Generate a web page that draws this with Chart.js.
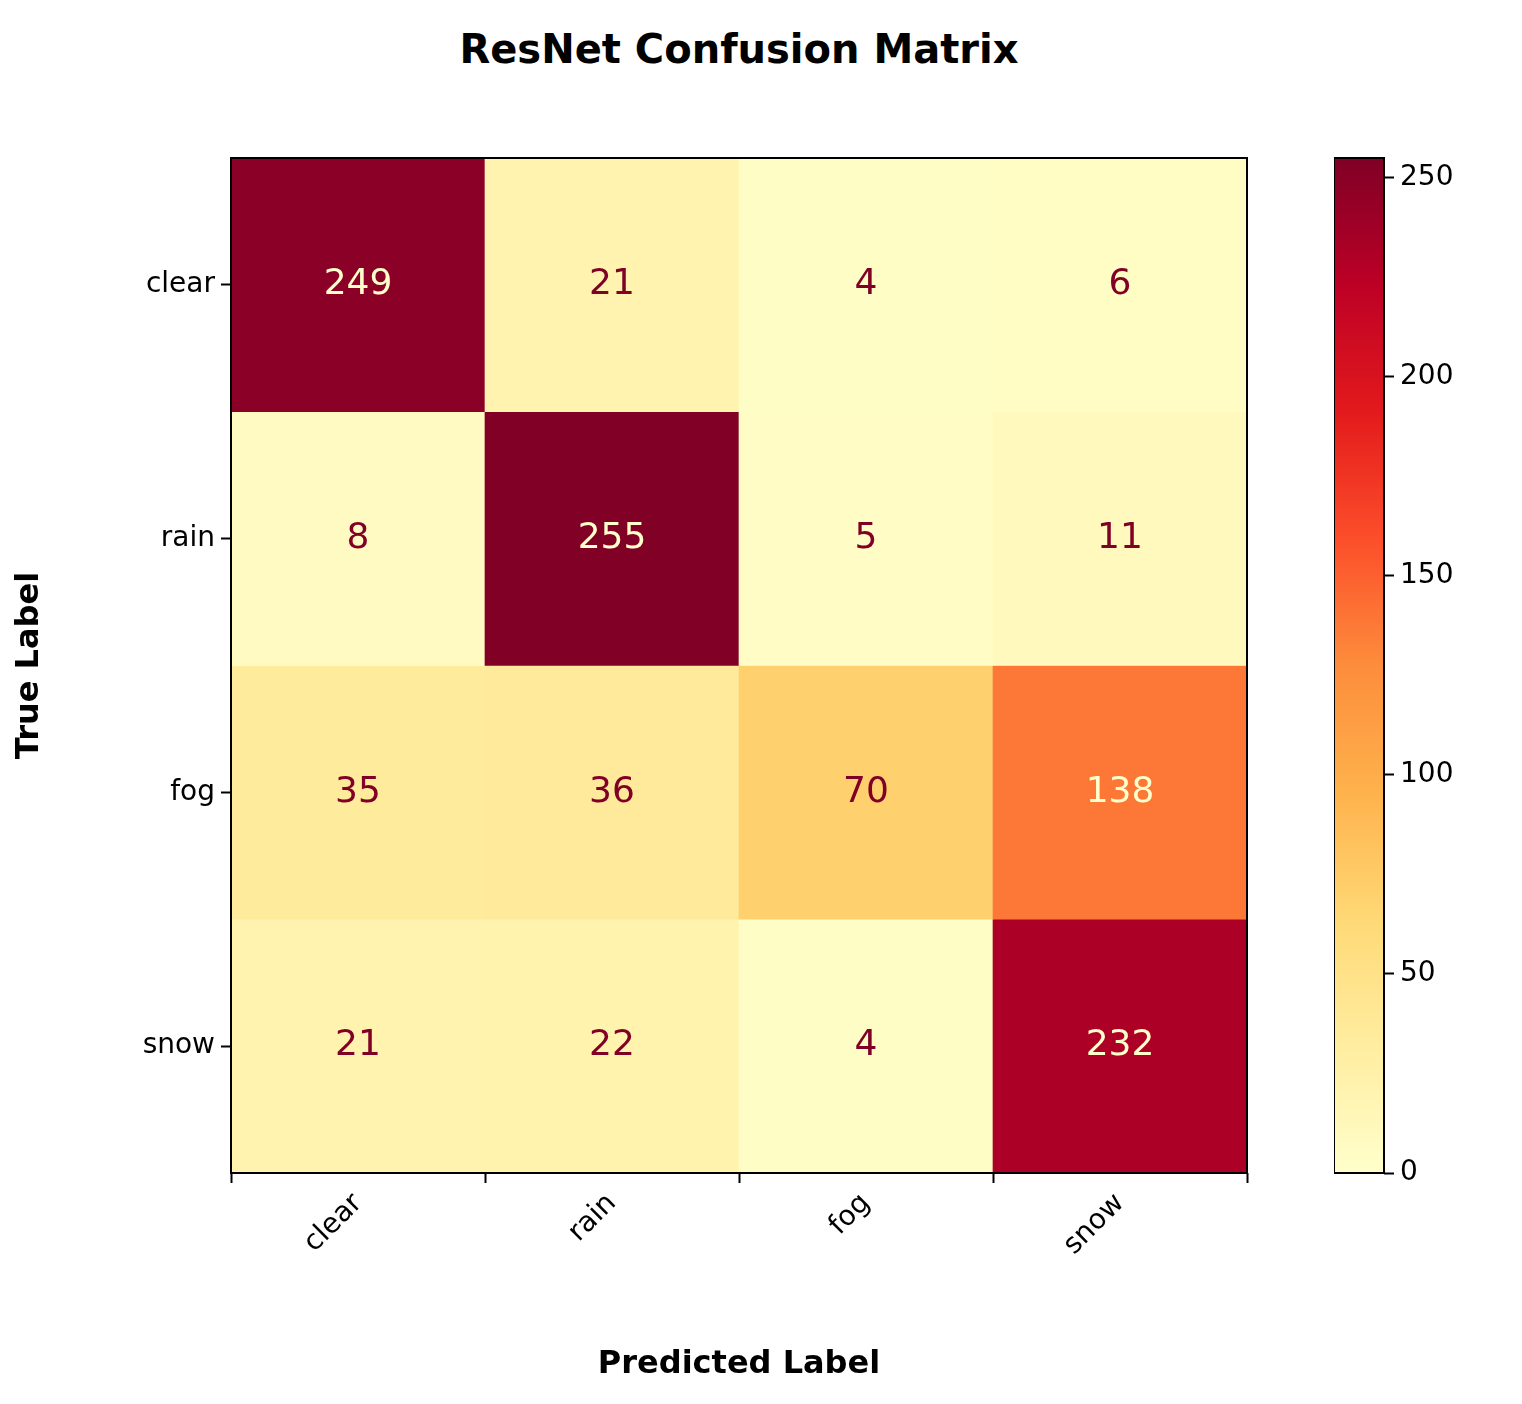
<!DOCTYPE html>
<html>
<head>
<meta charset="utf-8">
<script src="https://cdn.jsdelivr.net/npm/chart.js@4.4.1/dist/chart.umd.min.js"></script>
<style>
  body { margin: 0; background: #fff; width: 1522px; height: 1404px; position: relative; overflow: hidden; font-family: "DejaVu Sans", sans-serif; }
  #title { position: absolute; top: 26px; left: 0; width: 1478px; text-align: center; font-weight: bold; font-size: 40px; }
  #main { position: absolute; left: 0; top: 0; }
  #bar { position: absolute; left: 1334px; top: 0; }
</style>
</head>
<body>
<div id="title">ResNet Confusion Matrix</div>
<canvas id="main" width="1300" height="1404"></canvas>
<canvas id="bar" width="188" height="1404"></canvas>
<script>
const classes = ['clear', 'rain', 'fog', 'snow'];
// rows = true label, columns = predicted label
const matrix = [
    [249, 21, 4, 6],
    [8, 255, 5, 11],
    [35, 36, 70, 138],
    [21, 22, 4, 232]
];
const colorTicks = [0, 50, 100, 150, 200, 250];

const vmax = Math.max(...matrix.flat());
const stops = ['#ffffcc', '#ffeda0', '#fed976', '#feb24c', '#fd8d3c', '#fc4e2a', '#e31a1c', '#bd0026', '#800026'];

function hex(c) { return [1, 3, 5].map(i => parseInt(c.substr(i, 2), 16)); }
function cmap(t) {
    t = Math.min(1, Math.max(0, t)) * (stops.length - 1);
    const i = Math.min(stops.length - 2, Math.floor(t));
    const f = t - i;
    const a = hex(stops[i]), b = hex(stops[i + 1]);
    return 'rgb(' + a.map((v, k) => Math.round(v + (b[k] - v) * f)).join(',') + ')';
}

Chart.defaults.font.family = '"DejaVu Sans", sans-serif';
Chart.defaults.color = '#000';
Chart.defaults.animation = false;

const frame = {
    id: 'frame',
    afterDraw(chart) {
        const { ctx, chartArea: a } = chart;
        ctx.save();
        ctx.strokeStyle = '#000';
        ctx.lineWidth = 2;
        ctx.strokeRect(a.left, a.top, a.right - a.left, a.bottom - a.top);
        ctx.restore();
    }
};

const cellText = {
    id: 'cellText',
    afterDatasetsDraw(chart) {
        const { ctx, scales } = chart;
        ctx.save();
        ctx.font = '36px "DejaVu Sans", sans-serif';
        ctx.textAlign = 'center';
        ctx.textBaseline = 'middle';
        matrix.forEach((row, r) => {
            row.forEach((v, c) => {
                ctx.fillStyle = v > vmax / 2 ? '#ffffcc' : '#800026';
                ctx.fillText(String(v), scales.x.getPixelForValue(c), scales.y.getPixelForValue(r + 0.5));
            });
        });
        ctx.restore();
    }
};

new Chart(document.getElementById('main'), {
    type: 'bar',
    data: {
        labels: classes,
        datasets: matrix.map((row, r) => ({
            data: row.map(() => [r, r + 1]),
            backgroundColor: row.map(v => cmap(v / vmax)),
            barPercentage: 1,
            categoryPercentage: 1,
            grouped: false,
            borderWidth: 0
        }))
    },
    options: {
        responsive: false,
        layout: { padding: { top: 158, right: 53, bottom: 0, left: 0 } },
        plugins: { legend: { display: false }, tooltip: { enabled: false } },
        scales: {
            x: {
                grid: { drawOnChartArea: false, tickLength: 10, color: '#000', tickWidth: 2 },
                border: { display: false },
                ticks: { font: { size: 28 }, minRotation: 45, maxRotation: 45, padding: 4 },
                title: { display: true, text: 'Predicted Label', font: { size: 32, weight: 'bold' }, padding: { top: 10, bottom: 20 } },
                afterFit(s) { s.height = 231; }
            },
            y: {
                type: 'linear', min: 0, max: 4, reverse: true,
                afterBuildTicks(s) { s.ticks = classes.map((_, i) => ({ value: i + 0.5 })); },
                grid: { drawOnChartArea: false, tickLength: 10, color: '#000', tickWidth: 2 },
                border: { display: false },
                ticks: { font: { size: 28 }, padding: 6, callback: v => classes[Math.floor(v)] },
                title: { display: true, text: 'True Label', font: { size: 32, weight: 'bold' }, padding: { top: 10, bottom: 10 } },
                afterFit(s) { s.width = 231; }
            }
        }
    },
    plugins: [frame, cellText]
});

new Chart(document.getElementById('bar'), {
    type: 'bar',
    data: {
        labels: [''],
        datasets: [{
            data: [[0, vmax]],
            barPercentage: 1,
            categoryPercentage: 1,
            borderWidth: 0,
            backgroundColor(ctx) {
                const a = ctx.chart.chartArea;
                if (!a) return stops[0];
                const g = ctx.chart.ctx.createLinearGradient(0, a.bottom, 0, a.top);
                stops.forEach((s, i) => g.addColorStop(i / (stops.length - 1), s));
                return g;
            }
        }]
    },
    options: {
        responsive: false,
        layout: { padding: { top: 158, bottom: 231, left: 0, right: 0 } },
        plugins: { legend: { display: false }, tooltip: { enabled: false } },
        scales: {
            x: { display: false },
            y: {
                position: 'right', min: 0, max: vmax,
                afterBuildTicks(s) { s.ticks = colorTicks.map(v => ({ value: v })); },
                grid: { drawOnChartArea: false, tickLength: 10, color: '#000', tickWidth: 2 },
                border: { display: false },
                ticks: { font: { size: 28 }, padding: 6 },
                afterFit(s) { s.width = 138; }
            }
        }
    },
    plugins: [frame]
});
</script>
</body>
</html>
